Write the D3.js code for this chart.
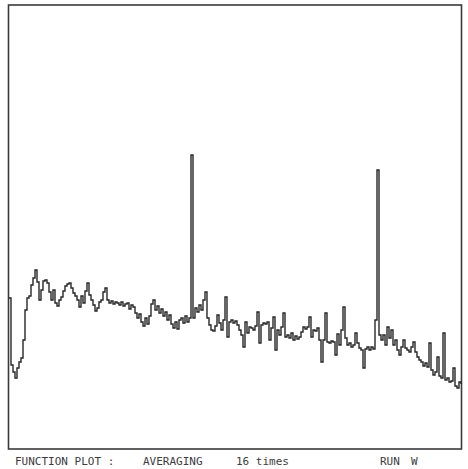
<!DOCTYPE html>
<html>
<head>
<meta charset="utf-8">
<script src="https://cdnjs.cloudflare.com/ajax/libs/d3/7.8.5/d3.min.js"></script>
<style>
    body { margin: 0; background: #fff; }
    .frame { fill: none; stroke: #3a3a3a; stroke-width: 1.6px; }
    .trace { fill: none; stroke: #262626; stroke-width: 1.4px; }
    .footer text {
        font: 11px "DejaVu Sans Mono", monospace;
        fill: #3c3c3c;
    }
</style>
</head>
<body>
<svg class="target" width="468" height="469"></svg>
<script>

    // averaged signal level, one value per channel (2 px apart on the plot)
    let signal = [
        151, 84, 77, 71, 81, 87, 91, 109, 139, 151,
        153, 164, 171, 179, 167, 149, 159, 168, 169, 166,
        157, 149, 159, 146, 143, 149, 152, 158, 163, 165,
        166, 161, 156, 153, 149, 142, 153, 146, 158, 166,
        154, 149, 144, 138, 141, 147, 149, 157, 161, 149,
        146, 148, 145, 147, 146, 144, 147, 143, 145, 146,
        140, 144, 142, 136, 131, 135, 127, 123, 131, 125,
        133, 145, 149, 139, 143, 136, 140, 133, 137, 129,
        134, 125, 121, 127, 120, 129, 131, 126, 133, 127,
        131, 294, 131, 141, 137, 144, 139, 149, 157, 131,
        124, 119, 118, 123, 134, 126, 119, 129, 152, 112,
        127, 129, 126, 128, 124, 119, 114, 102, 127, 116,
        122, 121, 119, 123, 137, 106, 124, 126, 125, 127,
        109, 121, 132, 99, 119, 114, 122, 136, 112, 114,
        111, 116, 109, 113, 110, 112, 117, 122, 120, 122,
        132, 112, 119, 118, 121, 109, 87, 109, 136, 107,
        106, 108, 107, 94, 115, 104, 119, 142, 111, 104,
        106, 102, 104, 116, 106, 101, 99, 81, 100, 102,
        99, 102, 100, 129, 279, 114, 109, 114, 104, 122,
        111, 119, 104, 109, 99, 94, 102, 109, 101, 99,
        97, 102, 107, 97, 92, 89, 87, 83, 86, 82,
        106, 79, 74, 77, 92, 73, 71, 116, 69, 71,
        67, 68, 81, 63, 61, 67, 65
    ];

    let footer = [
        { text: "FUNCTION PLOT :", at: 15 },
        { text: "AVERAGING", at: 143 },
        { text: "16 times", at: 236 },
        { text: "RUN", at: 380 },
        { text: "W", at: 411 }
    ];

    let svg = d3.select(".target");

    let box = { left: 8.5, right: 461.5, top: 5, bottom: 449 };

    let x = d3.scaleLinear()
        .domain([0, signal.length - 1])
        .range([9, 461]);

    let y = d3.scaleLinear()
        .domain([0, 444])
        .range([box.bottom, box.top]);

    svg.append("rect")
        .attr("class", "frame")
        .attr("x", box.left)
        .attr("y", box.top)
        .attr("width", box.right - box.left)
        .attr("height", box.bottom - box.top);

    let line = d3.line()
        .x((d, i) => x(i))
        .y(d => y(d))
        .curve(d3.curveStepAfter);

    svg.append("path")
        .datum(signal)
        .attr("class", "trace")
        .attr("d", line);

    svg.append("g")
        .attr("class", "footer")
        .selectAll("text")
        .data(footer)
        .enter().append("text")
        .attr("x", d => d.at)
        .attr("y", 465)
        .text(d => d.text);

</script>
</body>
</html>
